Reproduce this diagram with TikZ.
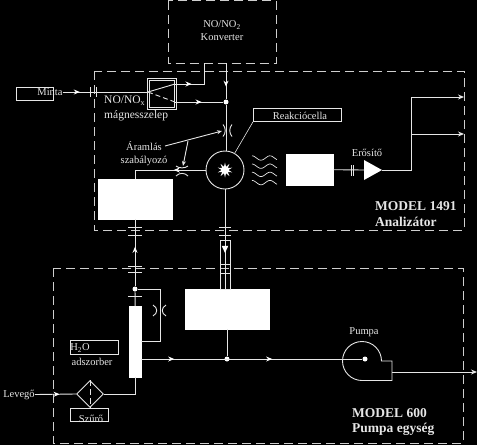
\documentclass[tikz,border=0pt]{standalone}
\usepackage{fontspec}
\setmainfont{Liberation Serif}
\usetikzlibrary{arrows.meta,positioning,shapes.geometric,calc,decorations.markings}
\definecolor{paper}{HTML}{000000}
\definecolor{ink}{HTML}{E6E6E6}
\definecolor{dashgray}{HTML}{CFCFCF}
\tikzset{
  unitbox/.style={draw=dashgray, line width=1pt, dash pattern=on 9pt off 5pt},
  solidbox/.style={rectangle, draw=white, fill=white, inner sep=0pt, anchor=north west},
  tagbox/.style={rectangle, draw=ink, line width=0.8pt, inner sep=0pt, anchor=north west},
  label/.style={font=\fontsize{10.5}{13}\selectfont, text=ink, inner sep=0pt, align=center},
  title/.style={font=\fontsize{13.5}{15.5}\selectfont\bfseries, text=ink, inner sep=0pt, align=left, anchor=west},
  pipe/.style={draw=ink, line width=0.9pt},
  flow/.style={pipe, postaction={decorate}, decoration={markings,
    mark=at position #1 with {\arrow[white]{Stealth[length=6pt,width=5pt]}}}},
  flow/.default=0.5,
  tipflow/.style={pipe, -{Stealth[length=6pt,width=5pt]}},
  junction/.style={circle, fill=white, inner sep=0pt, minimum size=5pt},
  fitting/.style={draw=ink, line width=0.9pt},
  nozzle/.style={draw=ink, line width=0.9pt},
}
\begin{document}
\begin{tikzpicture}[x=1pt,y=-1pt]
\fill[paper] (0,0) rectangle (477,445);
\useasboundingbox (0,0) rectangle (477,445);

% Dashed units
\draw[unitbox] (168,0.5) rectangle (276,63);
\draw[unitbox] (94,71) rectangle (464,230);
\draw[unitbox] (53,268) rectangle (463,443);
\node[label] (konv) at (222,31) {NO/NO\textsubscript{2}\\Konverter};
\node[title] (ana-title) at (375,214) {MODEL 1491\\Analizátor};
\node[title] (pump-title) at (352,422) {MODEL 600\\Pumpa egység};

% Sample inlet and valve
\node[tagbox, minimum width=37pt, minimum height=13pt] (minta-box) at (16,87) {};
\node[label] (minta) at (50,92) {Minta};
\node[rectangle, draw=ink, double=paper, double distance=0.8pt, line width=0.8pt,
  minimum width=27pt, minimum height=29pt, inner sep=0pt, anchor=north west] (valve) at (148,79) {};
\coordinate (valve-in) at (148,92);
\coordinate (valve-a) at (175,84);
\coordinate (valve-b) at (175,102);
\coordinate (konv-out) at (204,63);
\node[junction] (mix) at (226,102) {};
\coordinate (konv-in) at (226,63);
\draw[flow=0.2] (minta.east) -- (valve-in);
\draw[pipe] (valve-in) -- (valve-a);
\draw[pipe, dash pattern=on 5pt off 3pt] (valve-in) -- (valve-b);
\draw[flow=0.33] (valve-a) -| (konv-out);
\draw[flow=0.55] (valve-b) -- (mix);
\foreach \x in {90,96}
  \draw[fitting] (\x,87) -- (\x,97);
\node[label, font=\fontsize{11.5}{15}\selectfont, align=left, anchor=north west] (valve-txt) at (104,96) {NO/NO\textsubscript{x}\\mágnesszelep};

% Reaction cell
\node[circle, draw=ink, line width=0.9pt, minimum size=38pt, inner sep=0pt] (cell) at (225,170) {};
\node[star, star points=10, star point ratio=2.2, fill=white, minimum size=15pt, inner sep=0pt] (flash) at (cell) {};
\draw[flow=0.65] (konv-in) -- (mix);
\draw[pipe] (mix) -- (mix |- cell.north);
\node[tagbox, minimum width=88pt, minimum height=13pt] (cell-box) at (253,108) {};
\node[label] (cell-txt) at (300,116) {Reakciócella};
\draw[draw=ink, line width=0.6pt] (cell-box.south west) -- (cell.60);
\node[label] (flow-txt) at (144,154) {Áramlás\\szabályozó};
\coordinate (nozzle-top) at (222,131);
\coordinate (nozzle-left) at (183,166);
\coordinate (branch) at (188,141);
\coordinate (flow-tail) at (165,146);
\draw[pipe, -{Stealth[length=5pt,width=4pt]}] (flow-tail) -- (nozzle-top);
\draw[pipe, -{Stealth[length=5pt,width=4pt]}] (branch) -- (nozzle-left);
\draw[nozzle] (223,124.5) .. controls (226,128) and (226,133) .. (223,136.5);
\draw[nozzle] (232,124.5) .. controls (229,128) and (229,133) .. (232,136.5);
\draw[nozzle] (176,166) .. controls (179,168.5) and (185,168.5) .. (188,166);
\draw[nozzle] (176,176) .. controls (179,172.5) and (185,172.5) .. (188,176);

% NO2 analyser blocks
\node[solidbox, minimum width=74pt, minimum height=40pt] (flowblock) at (98,179) {};
\coordinate (flowbend) at (135,170);
\draw[flow=0.45] (cell.west) -- (flowbend);
\draw[pipe] (flowbend) -- (flowbend |- flowblock.north);
\foreach \i in {0,1,2,3}
  \draw[ink, line width=0.7pt] plot[smooth, domain=0:25, samples=21]
    ({252+\x}, {158+\i*8.2-2.2*cos(360*\x/18)});
\node[solidbox, minimum width=47pt, minimum height=31pt] (pmt) at (286,154) {};
\coordinate (amp-in) at (364,170);
\coordinate (amp-tip) at (382,170);
\fill[white] (364,160) -- (amp-tip) -- (364,180) -- cycle;
\node[label] (amp-txt) at (367,153) {Erősítő};
\draw[pipe] (pmt.east) -- (amp-in);
\draw[fitting] (351,165) -- (351,176);
\draw[fitting] (353,165) -- (353,176);
\coordinate (split) at (411,170);
\coordinate (out-a) at (464,97);
\coordinate (out-b) at (464,134);
\draw[pipe] (amp-tip) -- (split) -- (split |- out-a);
\draw[tipflow] (split |- out-a) -- (out-a);
\draw[tipflow] (split |- out-b) -- (out-b);

% Pump unit
\node[solidbox, minimum width=12pt, minimum height=71pt] (drier) at (129,306) {};
\node[junction] (tee) at (135,289) {};
\draw[flow=0.59] (tee) -- (flowblock.south -| tee);
\draw[pipe] (tee) -- (drier.north);
\foreach \y in {227,235,266,272,296}
  \draw[fitting] (128,\y) -- (142,\y);
\coordinate (bypass) at (160,289);
\draw[pipe] (tee) -- (bypass) -- (bypass |- drier.east) -- (drier.east);
\draw[nozzle] (153,305) .. controls (158,308) and (158,313) .. (153,316);
\draw[nozzle] (166,305) .. controls (161,308) and (161,313) .. (166,316);
\node[tagbox, minimum width=48pt, minimum height=14pt] (h2o-box) at (70,340) {};
\node[label] (h2o) at (80,348) {H\textsubscript{2}O};
\node[label] (ads) at (92,361.5) {adszorber};
\node[label] (levego) at (19,394.5) {Levegő};
\node[diamond, draw=ink, line width=0.9pt, minimum size=27pt, inner sep=0pt] (filter) at (90,394) {};
\draw[ink, line width=0.9pt, dash pattern=on 6pt off 3pt] (filter.north) -- (filter.south);
\node[tagbox, minimum width=38pt, minimum height=13pt] (filter-box) at (70,408) {};
\node[label] (filter-txt) at (91,419) {Szűrő};
\draw[flow=0.6] (levego.east) -- (filter.west);
\draw[pipe] (filter.east) -| (drier.south);

% Vacuum line
\node[solidbox, minimum width=84pt, minimum height=40pt] (pumpblock) at (185,289) {};
\node[junction] (vac) at (227,359) {};
\node[junction] (rotor) at (365,359) {};
\draw[pipe] (cell.south) -- (pumpblock.north -| cell);
\foreach \y in {227,235}
  \draw[fitting] (219,\y) -- (231,\y);
\draw[pipe] (220.5,240) rectangle (230,289);
\draw[ink, line width=0.6pt] (220.5,264) -- (230,264) (220.5,273) -- (230,273);
\node[fill=white, isosceles triangle, isosceles triangle apex angle=50, shape border rotate=-90,
  minimum height=7pt, inner sep=0pt] (tube-tip) at (225,248) {};
\draw[pipe] (pumpblock.south -| vac) -- (vac);
\coordinate (drier-out) at (141,359);
\draw[flow=0.15] (drier-out) -- (rotor);
\draw[flow=0.32] (vac) -- (rotor);
\node[label] (pump-txt) at (364,332) {Pumpa};
\draw[draw=ink, line width=0.9pt] (381.5,361) arc[start angle=0, end angle=-270, radius=19.5]
  -- (392,380.5) -- (392,361) -- cycle;
\coordinate (pump-out) at (392,372);
\coordinate (exhaust) at (477,372);
\draw[tipflow] (pump-out) -- (exhaust);
\end{tikzpicture}
\end{document}
